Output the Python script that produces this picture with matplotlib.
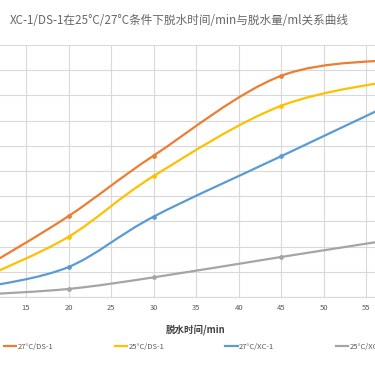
import matplotlib
matplotlib.use("Agg")
import matplotlib.pyplot as plt
from matplotlib.path import Path
from matplotlib.patches import PathPatch
from matplotlib.lines import Line2D
import numpy as np

plt.rcParams['font.family'] = ['Noto Sans CJK SC', 'DejaVu Sans']

title = "XC-1/DS-1在25°C/27°C条件下脱水时间/min与脱水量/ml关系曲线"
xlabel = "脱水时间/min"
times = [10, 20, 30, 45, 60]
series_names = ["27°C/DS-1", "25°C/DS-1", "27°C/XC-1", "25°C/XC-1"]
ds1_27 = [11.5, 32.1, 56.1, 87.8, 94.4]
ds1_25 = [7.7, 23.9, 48.0, 75.9, 86.9]
xc1_27 = [3.8, 11.9, 31.9, 55.9, 79.9]
xc1_25 = [1.0, 3.2, 7.8, 15.9, 23.8]
colors = ["#ED7D31", "#FFC000", "#5B9BD5", "#A5A5A5"]
xticks = [15, 20, 25, 30, 35, 40, 45, 50, 55]
yticks = [0, 10, 20, 30, 40, 50, 60, 70, 80, 90, 100]

W, H = 375, 366
fig = plt.figure(figsize=(W / 100, H / 100), dpi=100)
ax = fig.add_axes([0, (H - 297) / H, 1, 252 / H])


def smooth_path(xs, ys):
    pts = np.column_stack([xs, ys]).astype(float)
    n = len(pts)
    verts = [pts[0]]
    codes = [Path.MOVETO]
    for i in range(n - 1):
        p0 = pts[i - 1] if i > 0 else pts[i]
        p1 = pts[i]
        p2 = pts[i + 1]
        p3 = pts[i + 2] if i + 2 < n else pts[i + 1]
        c1 = p1 + (p2 - p0) / 6.0
        c2 = p2 - (p3 - p1) / 6.0
        verts += [c1, c2, p2]
        codes += [Path.CURVE4] * 3
    return Path(verts, codes)


for vals, c in zip([ds1_27, ds1_25, xc1_27, xc1_25], colors):
    patch = PathPatch(smooth_path(times, vals), facecolor='none', edgecolor=c,
                      lw=1.6, capstyle='round', joinstyle='round', zorder=3)
    ax.add_patch(patch)
    ax.plot(times, vals, 'o', color=c, ms=2.4, mec=c, zorder=4)

ax.set_xticks(xticks)
ax.set_yticks(yticks)
ax.set_xlim(11.95, 56.0)
ax.set_ylim(0, 100)
ax.grid(True, color='#D9D9D9', lw=0.8)
ax.set_axisbelow(True)
for s in ['top', 'left', 'right']:
    ax.spines[s].set_visible(False)
ax.spines['bottom'].set_color('#D9D9D9')
ax.spines['bottom'].set_linewidth(0.8)
ax.tick_params(axis='both', length=0, labelsize=5.5, labelcolor='#595959', pad=5)
ax.tick_params(axis='y', labelleft=False)

fig.text(10 / W, 1 - 20 / H, title, fontsize=8.4, color='#666666', va='center', ha='left')
fig.text(196 / W, 1 - 330 / H, xlabel, fontsize=6.8, color='#404040', va='center', ha='center',
         fontweight='bold')

handles = [Line2D([], [], color=c, lw=1.6) for c in colors]
fig.legend(handles, series_names, loc='center left', bbox_to_anchor=(1 / W, 1 - 347 / H),
           ncol=4, frameon=False, fontsize=5.5, handlelength=1.6, handletextpad=0.2,
           columnspacing=8.0, labelcolor='#595959', borderaxespad=0)

fig.savefig('out.png', dpi=100)
